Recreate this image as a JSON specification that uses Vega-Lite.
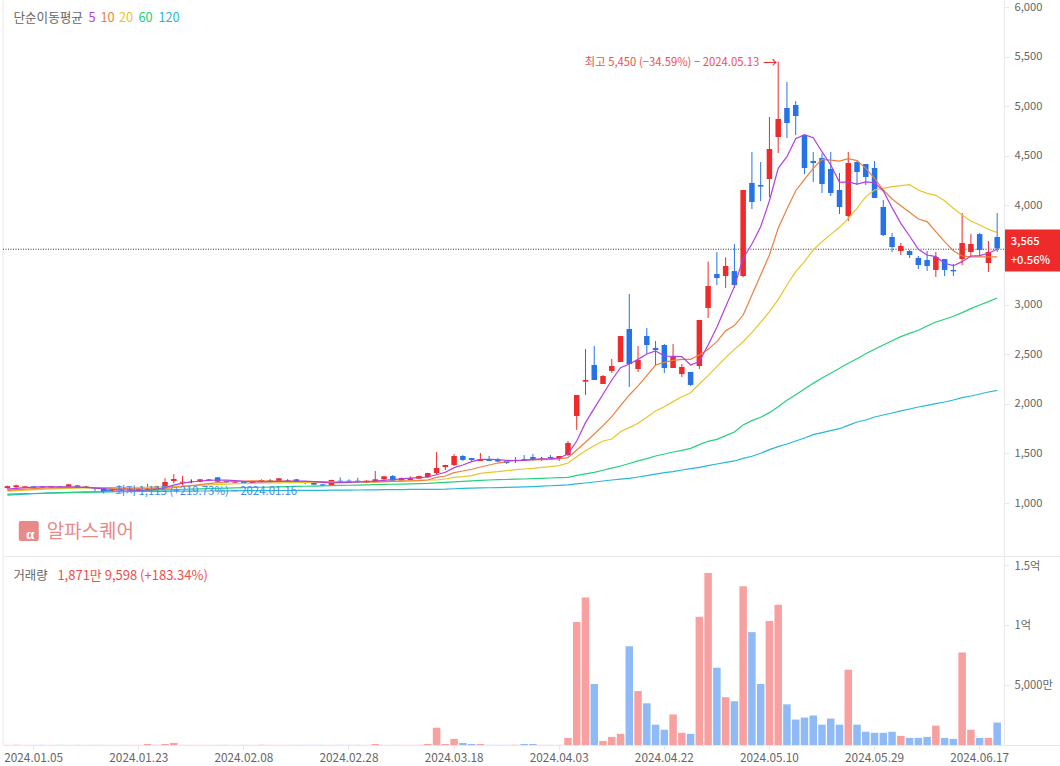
{"$schema":"https://vega.github.io/schema/vega-lite/v6.json","background":"white","padding":{"left":2,"top":-1,"right":0,"bottom":0},"spacing":0,"bounds":"flush",
"resolve":{"scale":{"color":"independent"}},
"config":{"font":"Noto Sans CJK KR","view":{"stroke":null}},
"datasets":{"daily":[
{"date":"2024.01.02","open":1150,"high":1175,"low":1145,"close":1170,"volume":12,"ma5":1140,"ma10":1128,"ma20":1120,"ma60":1090,"ma120":1080,"dir":"up"},
{"date":"2024.01.03","open":1160,"high":1185,"low":1155,"close":1178,"volume":12,"ma5":1147,"ma10":1135,"ma20":1125,"ma60":1092,"ma120":1085,"dir":"up"},
{"date":"2024.01.04","open":1155,"high":1172,"low":1150,"close":1168,"volume":12,"ma5":1155,"ma10":1140,"ma20":1130,"ma60":1094,"ma120":1090,"dir":"up"},
{"date":"2024.01.05","open":1168,"high":1172,"low":1150,"close":1155,"volume":12,"ma5":1160,"ma10":1145,"ma20":1134,"ma60":1096,"ma120":1094,"dir":"down"},
{"date":"2024.01.08","open":1168,"high":1172,"low":1152,"close":1155,"volume":12,"ma5":1163,"ma10":1150,"ma20":1138,"ma60":1098,"ma120":1098,"dir":"down"},
{"date":"2024.01.09","open":1155,"high":1172,"low":1150,"close":1168,"volume":12,"ma5":1163,"ma10":1152,"ma20":1142,"ma60":1100,"ma120":1102,"dir":"up"},
{"date":"2024.01.10","open":1168,"high":1172,"low":1152,"close":1155,"volume":12,"ma5":1163,"ma10":1155,"ma20":1145,"ma60":1102,"ma120":1105,"dir":"down"},
{"date":"2024.01.11","open":1165,"high":1192,"low":1160,"close":1188,"volume":12,"ma5":1162,"ma10":1157,"ma20":1148,"ma60":1104,"ma120":1108,"dir":"up"},
{"date":"2024.01.12","open":1178,"high":1182,"low":1158,"close":1162,"volume":12,"ma5":1160,"ma10":1158,"ma20":1150,"ma60":1106,"ma120":1110,"dir":"down"},
{"date":"2024.01.15","open":1165,"high":1172,"low":1148,"close":1158,"volume":12,"ma5":1157,"ma10":1158,"ma20":1152,"ma60":1108,"ma120":1112,"dir":"flat"},
{"date":"2024.01.16","open":1155,"high":1158,"low":1115,"close":1145,"volume":12,"ma5":1150,"ma10":1156,"ma20":1153,"ma60":1110,"ma120":1113,"dir":"down"},
{"date":"2024.01.17","open":1150,"high":1155,"low":1116,"close":1118,"volume":12,"ma5":1143,"ma10":1154,"ma20":1154,"ma60":1112,"ma120":1114,"dir":"down"},
{"date":"2024.01.18","open":1125,"high":1145,"low":1120,"close":1138,"volume":12,"ma5":1137,"ma10":1150,"ma20":1155,"ma60":1114,"ma120":1115,"dir":"up"},
{"date":"2024.01.19","open":1135,"high":1140,"low":1120,"close":1125,"volume":12,"ma5":1133,"ma10":1147,"ma20":1155,"ma60":1116,"ma120":1115,"dir":"down"},
{"date":"2024.01.22","open":1125,"high":1145,"low":1120,"close":1140,"volume":12,"ma5":1130,"ma10":1145,"ma20":1156,"ma60":1118,"ma120":1116,"dir":"up"},
{"date":"2024.01.23","open":1130,"high":1150,"low":1125,"close":1145,"volume":12,"ma5":1128,"ma10":1143,"ma20":1157,"ma60":1122,"ma120":1117,"dir":"up"},
{"date":"2024.01.24","open":1130,"high":1192,"low":1125,"close":1148,"volume":85,"ma5":1131,"ma10":1143,"ma20":1158,"ma60":1126,"ma120":1117,"dir":"up"},
{"date":"2024.01.25","open":1140,"high":1175,"low":1135,"close":1168,"volume":12,"ma5":1138,"ma10":1144,"ma20":1160,"ma60":1130,"ma120":1118,"dir":"up"},
{"date":"2024.01.26","open":1168,"high":1250,"low":1160,"close":1212,"volume":85,"ma5":1155,"ma10":1148,"ma20":1163,"ma60":1133,"ma120":1118,"dir":"up"},
{"date":"2024.01.29","open":1222,"high":1292,"low":1198,"close":1242,"volume":170,"ma5":1180,"ma10":1155,"ma20":1166,"ma60":1136,"ma120":1119,"dir":"up"},
{"date":"2024.01.30","open":1205,"high":1272,"low":1178,"close":1215,"volume":12,"ma5":1200,"ma10":1165,"ma20":1170,"ma60":1139,"ma120":1120,"dir":"up"},
{"date":"2024.01.31","open":1218,"high":1238,"low":1198,"close":1222,"volume":12,"ma5":1212,"ma10":1175,"ma20":1174,"ma60":1141,"ma120":1120,"dir":"flat"},
{"date":"2024.02.01","open":1215,"high":1243,"low":1208,"close":1239,"volume":12,"ma5":1222,"ma10":1185,"ma20":1178,"ma60":1143,"ma120":1121,"dir":"up"},
{"date":"2024.02.02","open":1228,"high":1242,"low":1225,"close":1238,"volume":12,"ma5":1228,"ma10":1195,"ma20":1182,"ma60":1146,"ma120":1121,"dir":"up"},
{"date":"2024.02.05","open":1259,"high":1262,"low":1212,"close":1215,"volume":12,"ma5":1232,"ma10":1205,"ma20":1186,"ma60":1148,"ma120":1122,"dir":"down"},
{"date":"2024.02.06","open":1222,"high":1225,"low":1205,"close":1208,"volume":12,"ma5":1230,"ma10":1212,"ma20":1190,"ma60":1151,"ma120":1122,"dir":"down"},
{"date":"2024.02.07","open":1205,"high":1225,"low":1202,"close":1222,"volume":12,"ma5":1225,"ma10":1218,"ma20":1194,"ma60":1153,"ma120":1123,"dir":"up"},
{"date":"2024.02.08","open":1218,"high":1222,"low":1192,"close":1195,"volume":12,"ma5":1218,"ma10":1222,"ma20":1197,"ma60":1155,"ma120":1124,"dir":"down"},
{"date":"2024.02.13","open":1202,"high":1222,"low":1198,"close":1218,"volume":12,"ma5":1214,"ma10":1224,"ma20":1199,"ma60":1157,"ma120":1124,"dir":"up"},
{"date":"2024.02.14","open":1212,"high":1239,"low":1208,"close":1232,"volume":12,"ma5":1213,"ma10":1224,"ma20":1201,"ma60":1159,"ma120":1125,"dir":"up"},
{"date":"2024.02.15","open":1218,"high":1239,"low":1208,"close":1226,"volume":12,"ma5":1215,"ma10":1222,"ma20":1203,"ma60":1161,"ma120":1125,"dir":"flat"},
{"date":"2024.02.16","open":1222,"high":1252,"low":1208,"close":1249,"volume":12,"ma5":1218,"ma10":1220,"ma20":1204,"ma60":1163,"ma120":1126,"dir":"up"},
{"date":"2024.02.19","open":1218,"high":1239,"low":1208,"close":1226,"volume":12,"ma5":1220,"ma10":1218,"ma20":1205,"ma60":1165,"ma120":1126,"dir":"flat"},
{"date":"2024.02.20","open":1239,"high":1242,"low":1208,"close":1218,"volume":12,"ma5":1222,"ma10":1217,"ma20":1206,"ma60":1167,"ma120":1127,"dir":"down"},
{"date":"2024.02.21","open":1218,"high":1222,"low":1191,"close":1205,"volume":12,"ma5":1220,"ma10":1217,"ma20":1207,"ma60":1169,"ma120":1127,"dir":"down"},
{"date":"2024.02.22","open":1202,"high":1205,"low":1182,"close":1185,"volume":12,"ma5":1215,"ma10":1216,"ma20":1208,"ma60":1171,"ma120":1128,"dir":"down"},
{"date":"2024.02.23","open":1188,"high":1192,"low":1172,"close":1175,"volume":12,"ma5":1208,"ma10":1215,"ma20":1208,"ma60":1173,"ma120":1128,"dir":"down"},
{"date":"2024.02.26","open":1181,"high":1235,"low":1175,"close":1232,"volume":12,"ma5":1202,"ma10":1213,"ma20":1209,"ma60":1175,"ma120":1129,"dir":"up"},
{"date":"2024.02.27","open":1225,"high":1259,"low":1208,"close":1212,"volume":12,"ma5":1205,"ma10":1212,"ma20":1210,"ma60":1177,"ma120":1129,"dir":"down"},
{"date":"2024.02.28","open":1225,"high":1239,"low":1205,"close":1208,"volume":12,"ma5":1208,"ma10":1212,"ma20":1211,"ma60":1179,"ma120":1130,"dir":"down"},
{"date":"2024.02.29","open":1225,"high":1255,"low":1205,"close":1208,"volume":12,"ma5":1212,"ma10":1212,"ma20":1212,"ma60":1181,"ma120":1131,"dir":"down"},
{"date":"2024.03.04","open":1205,"high":1230,"low":1202,"close":1225,"volume":12,"ma5":1216,"ma10":1213,"ma20":1213,"ma60":1183,"ma120":1132,"dir":"up"},
{"date":"2024.03.05","open":1212,"high":1323,"low":1208,"close":1239,"volume":85,"ma5":1220,"ma10":1214,"ma20":1214,"ma60":1185,"ma120":1133,"dir":"up"},
{"date":"2024.03.06","open":1239,"high":1272,"low":1235,"close":1269,"volume":12,"ma5":1228,"ma10":1216,"ma20":1216,"ma60":1187,"ma120":1134,"dir":"up"},
{"date":"2024.03.07","open":1272,"high":1282,"low":1222,"close":1225,"volume":12,"ma5":1235,"ma10":1218,"ma20":1219,"ma60":1189,"ma120":1135,"dir":"down"},
{"date":"2024.03.08","open":1225,"high":1256,"low":1222,"close":1252,"volume":12,"ma5":1243,"ma10":1220,"ma20":1222,"ma60":1191,"ma120":1136,"dir":"up"},
{"date":"2024.03.11","open":1232,"high":1269,"low":1228,"close":1249,"volume":12,"ma5":1250,"ma10":1222,"ma20":1225,"ma60":1193,"ma120":1137,"dir":"up"},
{"date":"2024.03.12","open":1245,"high":1275,"low":1242,"close":1272,"volume":12,"ma5":1256,"ma10":1225,"ma20":1228,"ma60":1195,"ma120":1137,"dir":"up"},
{"date":"2024.03.13","open":1259,"high":1305,"low":1255,"close":1302,"volume":85,"ma5":1262,"ma10":1232,"ma20":1232,"ma60":1198,"ma120":1138,"dir":"up"},
{"date":"2024.03.14","open":1302,"high":1514,"low":1286,"close":1353,"volume":1440,"ma5":1285,"ma10":1259,"ma20":1232,"ma60":1203,"ma120":1138,"dir":"up"},
{"date":"2024.03.15","open":1363,"high":1385,"low":1333,"close":1383,"volume":85,"ma5":1310,"ma10":1272,"ma20":1242,"ma60":1208,"ma120":1140,"dir":"up"},
{"date":"2024.03.18","open":1383,"high":1494,"low":1373,"close":1474,"volume":510,"ma5":1357,"ma10":1306,"ma20":1259,"ma60":1213,"ma120":1144,"dir":"up"},
{"date":"2024.03.19","open":1474,"high":1484,"low":1424,"close":1434,"volume":170,"ma5":1383,"ma10":1323,"ma20":1266,"ma60":1218,"ma120":1148,"dir":"down"},
{"date":"2024.03.20","open":1454,"high":1454,"low":1413,"close":1434,"volume":85,"ma5":1417,"ma10":1340,"ma20":1276,"ma60":1223,"ma120":1150,"dir":"down"},
{"date":"2024.03.21","open":1424,"high":1504,"low":1424,"close":1444,"volume":85,"ma5":1440,"ma10":1363,"ma20":1299,"ma60":1228,"ma120":1152,"dir":"up"},
{"date":"2024.03.22","open":1444,"high":1474,"low":1424,"close":1424,"volume":12,"ma5":1440,"ma10":1383,"ma20":1309,"ma60":1232,"ma120":1154,"dir":"down"},
{"date":"2024.03.25","open":1434,"high":1454,"low":1413,"close":1418,"volume":12,"ma5":1437,"ma10":1403,"ma20":1316,"ma60":1235,"ma120":1156,"dir":"down"},
{"date":"2024.03.26","open":1424,"high":1434,"low":1393,"close":1403,"volume":12,"ma5":1430,"ma10":1417,"ma20":1326,"ma60":1237,"ma120":1158,"dir":"down"},
{"date":"2024.03.27","open":1424,"high":1464,"low":1403,"close":1434,"volume":12,"ma5":1427,"ma10":1430,"ma20":1336,"ma60":1240,"ma120":1160,"dir":"up"},
{"date":"2024.03.28","open":1444,"high":1484,"low":1424,"close":1424,"volume":85,"ma5":1430,"ma10":1430,"ma20":1343,"ma60":1242,"ma120":1163,"dir":"down"},
{"date":"2024.03.29","open":1464,"high":1494,"low":1424,"close":1444,"volume":85,"ma5":1440,"ma10":1434,"ma20":1350,"ma60":1245,"ma120":1166,"dir":"down"},
{"date":"2024.04.01","open":1447,"high":1464,"low":1427,"close":1444,"volume":12,"ma5":1444,"ma10":1437,"ma20":1360,"ma60":1248,"ma120":1170,"dir":"flat"},
{"date":"2024.04.02","open":1464,"high":1484,"low":1434,"close":1454,"volume":12,"ma5":1447,"ma10":1440,"ma20":1366,"ma60":1252,"ma120":1174,"dir":"down"},
{"date":"2024.04.03","open":1444,"high":1474,"low":1424,"close":1474,"volume":12,"ma5":1454,"ma10":1444,"ma20":1377,"ma60":1255,"ma120":1178,"dir":"up"},
{"date":"2024.04.04","open":1484,"high":1625,"low":1474,"close":1605,"volume":593,"ma5":1494,"ma10":1457,"ma20":1403,"ma60":1259,"ma120":1182,"dir":"up"},
{"date":"2024.04.05","open":1877,"high":2089,"low":1736,"close":2089,"volume":10255,"ma5":1625,"ma10":1534,"ma20":1467,"ma60":1279,"ma120":1192,"dir":"up"},
{"date":"2024.04.08","open":2223,"high":2552,"low":2089,"close":2240,"volume":12289,"ma5":1810,"ma10":1612,"ma20":1528,"ma60":1294,"ma120":1202,"dir":"up"},
{"date":"2024.04.09","open":2391,"high":2583,"low":2240,"close":2240,"volume":5085,"ma5":1954,"ma10":1696,"ma20":1578,"ma60":1309,"ma120":1212,"dir":"down"},
{"date":"2024.04.11","open":2200,"high":2290,"low":2200,"close":2280,"volume":339,"ma5":2096,"ma10":1780,"ma20":1625,"ma60":1330,"ma120":1222,"dir":"up"},
{"date":"2024.04.12","open":2331,"high":2452,"low":2311,"close":2381,"volume":678,"ma5":2240,"ma10":1870,"ma20":1645,"ma60":1352,"ma120":1232,"dir":"up"},
{"date":"2024.04.15","open":2421,"high":2683,"low":2421,"close":2683,"volume":932,"ma5":2364,"ma10":1981,"ma20":1719,"ma60":1373,"ma120":1241,"dir":"up"},
{"date":"2024.04.16","open":2754,"high":3107,"low":2169,"close":2401,"volume":8221,"ma5":2401,"ma10":2089,"ma20":1760,"ma60":1398,"ma120":1249,"dir":"down"},
{"date":"2024.04.17","open":2351,"high":2583,"low":2321,"close":2442,"volume":4492,"ma5":2448,"ma10":2180,"ma20":1803,"ma60":1424,"ma120":1262,"dir":"up"},
{"date":"2024.04.18","open":2683,"high":2764,"low":2502,"close":2593,"volume":3475,"ma5":2502,"ma10":2284,"ma20":1864,"ma60":1447,"ma120":1277,"dir":"down"},
{"date":"2024.04.19","open":2563,"high":2633,"low":2381,"close":2542,"volume":1695,"ma5":2532,"ma10":2391,"ma20":1927,"ma60":1474,"ma120":1292,"dir":"down"},
{"date":"2024.04.22","open":2593,"high":2603,"low":2311,"close":2361,"volume":1271,"ma5":2482,"ma10":2418,"ma20":1971,"ma60":1494,"ma120":1306,"dir":"down"},
{"date":"2024.04.23","open":2361,"high":2603,"low":2361,"close":2472,"volume":2543,"ma5":2479,"ma10":2438,"ma20":2022,"ma60":1514,"ma120":1317,"dir":"up"},
{"date":"2024.04.24","open":2300,"high":2401,"low":2270,"close":2371,"volume":1017,"ma5":2475,"ma10":2448,"ma20":2072,"ma60":1531,"ma120":1333,"dir":"up"},
{"date":"2024.04.25","open":2321,"high":2321,"low":2180,"close":2190,"volume":932,"ma5":2391,"ma10":2448,"ma20":2112,"ma60":1551,"ma120":1346,"dir":"down"},
{"date":"2024.04.26","open":2381,"high":2845,"low":2351,"close":2845,"volume":10679,"ma5":2425,"ma10":2492,"ma20":2200,"ma60":1588,"ma120":1360,"dir":"up"},
{"date":"2024.04.29","open":2966,"high":3433,"low":2865,"close":3187,"volume":14323,"ma5":2593,"ma10":2549,"ma20":2284,"ma60":1622,"ma120":1376,"dir":"up"},
{"date":"2024.04.30","open":3308,"high":3530,"low":3197,"close":3268,"volume":6441,"ma5":2771,"ma10":2626,"ma20":2374,"ma60":1642,"ma120":1393,"dir":"down"},
{"date":"2024.05.02","open":3288,"high":3476,"low":3167,"close":3389,"volume":3983,"ma5":2979,"ma10":2737,"ma20":2465,"ma60":1679,"ma120":1410,"dir":"up"},
{"date":"2024.05.03","open":3338,"high":3611,"low":3167,"close":3197,"volume":3644,"ma5":3181,"ma10":2788,"ma20":2549,"ma60":1716,"ma120":1424,"dir":"down"},
{"date":"2024.05.07","open":3288,"high":4155,"low":3275,"close":4155,"volume":13221,"ma5":3466,"ma10":2895,"ma20":2626,"ma60":1786,"ma120":1450,"dir":"up"},
{"date":"2024.05.08","open":4226,"high":4538,"low":3963,"close":4034,"volume":9407,"ma5":3611,"ma10":3097,"ma20":2720,"ma60":1830,"ma120":1471,"dir":"down"},
{"date":"2024.05.09","open":4205,"high":4437,"low":4044,"close":4189,"volume":5085,"ma5":3785,"ma10":3298,"ma20":2820,"ma60":1864,"ma120":1501,"dir":"down"},
{"date":"2024.05.10","open":4266,"high":4891,"low":4084,"close":4568,"volume":10340,"ma5":4047,"ma10":3500,"ma20":2930,"ma60":1911,"ma120":1538,"dir":"up"},
{"date":"2024.05.13","open":4689,"high":5450,"low":4528,"close":4871,"volume":11696,"ma5":4373,"ma10":3769,"ma20":3050,"ma60":1971,"ma120":1568,"dir":"up"},
{"date":"2024.05.14","open":4982,"high":5244,"low":4679,"close":4830,"volume":3390,"ma5":4491,"ma10":3963,"ma20":3197,"ma60":2035,"ma120":1595,"dir":"down"},
{"date":"2024.05.16","open":5012,"high":5052,"low":4709,"close":4901,"volume":2119,"ma5":4672,"ma10":4148,"ma20":3332,"ma60":2092,"ma120":1625,"dir":"down"},
{"date":"2024.05.17","open":4709,"high":4709,"low":4316,"close":4377,"volume":2288,"ma5":4713,"ma10":4263,"ma20":3433,"ma60":2149,"ma120":1655,"dir":"down"},
{"date":"2024.05.20","open":4447,"high":4538,"low":4236,"close":4427,"volume":2458,"ma5":4682,"ma10":4373,"ma20":3550,"ma60":2206,"ma120":1689,"dir":"down"},
{"date":"2024.05.21","open":4478,"high":4525,"low":4125,"close":4215,"volume":1695,"ma5":4541,"ma10":4464,"ma20":3634,"ma60":2260,"ma120":1709,"dir":"down"},
{"date":"2024.05.22","open":4367,"high":4538,"low":4095,"close":4125,"volume":2204,"ma5":4407,"ma10":4457,"ma20":3708,"ma60":2307,"ma120":1729,"dir":"down"},
{"date":"2024.05.23","open":4155,"high":4326,"low":3913,"close":3984,"volume":1695,"ma5":4232,"ma10":4447,"ma20":3779,"ma60":2358,"ma120":1749,"dir":"down"},
{"date":"2024.05.24","open":3893,"high":4538,"low":3842,"close":4427,"volume":6272,"ma5":4236,"ma10":4471,"ma20":3869,"ma60":2408,"ma120":1783,"dir":"up"},
{"date":"2024.05.27","open":4437,"high":4447,"low":4205,"close":4336,"volume":1695,"ma5":4215,"ma10":4451,"ma20":3970,"ma60":2455,"ma120":1817,"dir":"down"},
{"date":"2024.05.28","open":4417,"high":4417,"low":4205,"close":4286,"volume":1102,"ma5":4236,"ma10":4373,"ma20":4088,"ma60":2505,"ma120":1837,"dir":"down"},
{"date":"2024.05.29","open":4377,"high":4447,"low":4074,"close":4074,"volume":1017,"ma5":4229,"ma10":4273,"ma20":4155,"ma60":2549,"ma120":1867,"dir":"down"},
{"date":"2024.05.30","open":3984,"high":4054,"low":3691,"close":3701,"volume":1017,"ma5":4145,"ma10":4155,"ma20":4172,"ma60":2593,"ma120":1887,"dir":"down"},
{"date":"2024.05.31","open":3681,"high":3722,"low":3530,"close":3580,"volume":1102,"ma5":3977,"ma10":4064,"ma20":4189,"ma60":2636,"ma120":1907,"dir":"down"},
{"date":"2024.06.03","open":3540,"high":3621,"low":3500,"close":3591,"volume":763,"ma5":3819,"ma10":3997,"ma20":4199,"ma60":2677,"ma120":1928,"dir":"up"},
{"date":"2024.06.04","open":3540,"high":3550,"low":3470,"close":3500,"volume":593,"ma5":3691,"ma10":3930,"ma20":4209,"ma60":2710,"ma120":1948,"dir":"down"},
{"date":"2024.06.05","open":3470,"high":3490,"low":3359,"close":3399,"volume":593,"ma5":3557,"ma10":3863,"ma20":4155,"ma60":2741,"ma120":1968,"dir":"down"},
{"date":"2024.06.07","open":3449,"high":3540,"low":3339,"close":3389,"volume":678,"ma5":3500,"ma10":3836,"ma20":4121,"ma60":2784,"ma120":1985,"dir":"down"},
{"date":"2024.06.10","open":3349,"high":3530,"low":3278,"close":3480,"volume":1610,"ma5":3483,"ma10":3735,"ma20":4101,"ma60":2825,"ma120":2002,"dir":"up"},
{"date":"2024.06.11","open":3459,"high":3459,"low":3288,"close":3349,"volume":593,"ma5":3416,"ma10":3634,"ma20":4047,"ma60":2852,"ma120":2018,"dir":"down"},
{"date":"2024.06.12","open":3349,"high":3409,"low":3288,"close":3335,"volume":509,"ma5":3392,"ma10":3543,"ma20":3970,"ma60":2882,"ma120":2038,"dir":"down"},
{"date":"2024.06.13","open":3459,"high":3923,"low":3399,"close":3621,"volume":7712,"ma5":3433,"ma10":3490,"ma20":3903,"ma60":2919,"ma120":2062,"dir":"up"},
{"date":"2024.06.14","open":3530,"high":3711,"low":3480,"close":3611,"volume":1271,"ma5":3490,"ma10":3480,"ma20":3843,"ma60":2959,"ma120":2079,"dir":"up"},
{"date":"2024.06.17","open":3711,"high":3722,"low":3490,"close":3550,"volume":593,"ma5":3493,"ma10":3480,"ma20":3802,"ma60":2996,"ma120":2099,"dir":"down"},
{"date":"2024.06.18","open":3419,"high":3641,"low":3328,"close":3530,"volume":593,"ma5":3517,"ma10":3480,"ma20":3759,"ma60":3030,"ma120":2119,"dir":"up"},
{"date":"2024.06.19","open":3681,"high":3923,"low":3530,"close":3565,"volume":1872,"ma5":3557,"ma10":3480,"ma20":3725,"ma60":3067,"ma120":2136,"dir":"down"}
]},
"vconcat":[
{"width":1001,"height":556,
"data":{"name":"daily"},
"encoding":{
"x":{"field":"date","type":"ordinal","scale":{"type":"band","paddingInner":0,"paddingOuter":0.14,"align":0},"axis":{"title":null,"labels":false,"ticks":false,"domain":true,"domainColor":"#e8e8e8","grid":false}},
"y":{"type":"quantitative","scale":{"domain":[466,6070],"nice":false,"zero":false},"axis":{"title":null,"orient":"right","grid":false,"values":[466,1000,1500,2000,2500,3000,3555,4000,4500,5000,5500,6000],
"labelExpr":"datum.value==466||datum.value==3555?'':format(datum.value,',')","labelFontSize":11.2,"labelColor":"#666666","labelPadding":5,"domainColor":"#e8e8e8",
"labelOffset":{"condition":{"test":"datum.value==6000","value":1},"value":0},
"tickColor":{"condition":{"test":"datum.value==3555","value":"#ee2a2a"},"value":"#e8e8e8"},
"tickSize":{"condition":{"test":"datum.value==466||datum.value==3555","value":57},"value":5},
"tickWidth":{"condition":{"test":"datum.value==3555","value":42},"value":1}}}
},
"layer":[
{"data":{"values":[{"date":"2024.01.02"}]},"mark":{"type":"rule","color":"#e8e8e8"},"encoding":{"x":{"field":"date","type":"ordinal","bandPosition":0},"y":{"value":0},"y2":{"value":556}}},
{"data":{"values":[{"price":3558}]},"mark":{"type":"rule","color":"#333344","strokeDash":[1,1.5],"strokeWidth":1},"encoding":{"x":{"value":0},"x2":{"value":1001},"y":{"field":"price","type":"quantitative"}}},
{"mark":{"type":"rule","strokeWidth":1},"encoding":{"y":{"field":"low"},"y2":{"field":"high"},"color":{"field":"dir","type":"nominal","legend":null,"scale":{"domain":["up","down","flat"],"range":["#ee2a2a","#2673e8","#222222"]}}}},
{"mark":{"type":"bar","size":5.5},"encoding":{"y":{"field":"open"},"y2":{"field":"close"},"color":{"field":"dir","type":"nominal","legend":null}}},
{"mark":{"type":"line","color":"#26b8d8","strokeWidth":1.2},"encoding":{"y":{"field":"ma120"}}},
{"mark":{"type":"line","color":"#25d07c","strokeWidth":1.2},"encoding":{"y":{"field":"ma60"}}},
{"mark":{"type":"line","color":"#e8c52c","strokeWidth":1.2},"encoding":{"y":{"field":"ma20"}}},
{"mark":{"type":"line","color":"#ee7f3c","strokeWidth":1.2},"encoding":{"y":{"field":"ma10"}}},
{"mark":{"type":"line","color":"#b43ee0","strokeWidth":1.2},"encoding":{"y":{"field":"ma5"}}},
{"data":{"values":[{"date":"2024.05.13","price":5450,"label":"최고 5,450 (−34.59%) − 2024.05.13"}]},"mark":{"type":"text","align":"right","baseline":"middle","fontSize":11.3,"color":"#f24d4d","dx":-19,"dy":1.5},"encoding":{"y":{"field":"price","type":"quantitative"},"text":{"field":"label"}}},
{"data":{"values":[{"date":"2024.05.13","price":5450,"label":"→"}]},"mark":{"type":"text","align":"right","baseline":"middle","fontSize":14,"color":"#ee2a2a","dx":-1,"dy":1},"encoding":{"y":{"field":"price","type":"quantitative"},"text":{"field":"label"}}},
{"data":{"values":[{"date":"2024.01.16","price":1115,"label":"←"}]},"mark":{"type":"text","align":"left","baseline":"middle","fontSize":12,"color":"#2673e8","dx":5},"encoding":{"y":{"field":"price","type":"quantitative"},"text":{"field":"label"}}},
{"data":{"values":[{"date":"2024.01.16","price":1115,"label":"최저 1,115 (+219.73%) − 2024.01.16"}]},"mark":{"type":"text","align":"left","baseline":"middle","fontSize":11.4,"color":"#3d8bf0","dx":20},"encoding":{"y":{"field":"price","type":"quantitative"},"text":{"field":"label"}}},
{"data":{"values":[{"date":"2024.06.19","price":3565,"label":"3,565"}]},"mark":{"type":"text","align":"left","baseline":"middle","fontSize":11.2,"fontWeight":500,"color":"white","dx":13.5,"dy":-7},"encoding":{"y":{"field":"price","type":"quantitative"},"text":{"field":"label"}}},
{"data":{"values":[{"date":"2024.06.19","price":3565,"label":"+0.56%"}]},"mark":{"type":"text","align":"left","baseline":"middle","fontSize":11.2,"fontWeight":500,"color":"white","dx":13.5,"dy":12},"encoding":{"y":{"field":"price","type":"quantitative"},"text":{"field":"label"}}},
{"data":{"values":[{"date":"2024.01.02","price":5899,"label":"단순이동평균"}]},"mark":{"type":"text","align":"left","baseline":"middle","fontSize":12.6,"color":"#666666","dx":6,"dy":1},"encoding":{"y":{"field":"price","type":"quantitative"},"text":{"field":"label"}}},
{"data":{"values":[{"date":"2024.01.02","price":5899,"label":"5"}]},"mark":{"type":"text","align":"left","baseline":"middle","fontSize":12.8,"color":"#b43ee0","dx":81,"dy":1},"encoding":{"y":{"field":"price","type":"quantitative"},"text":{"field":"label"}}},
{"data":{"values":[{"date":"2024.01.02","price":5899,"label":"10"}]},"mark":{"type":"text","align":"left","baseline":"middle","fontSize":12.8,"color":"#ee7f3c","dx":93,"dy":1},"encoding":{"y":{"field":"price","type":"quantitative"},"text":{"field":"label"}}},
{"data":{"values":[{"date":"2024.01.02","price":5899,"label":"20"}]},"mark":{"type":"text","align":"left","baseline":"middle","fontSize":12.8,"color":"#e8c52c","dx":111.5,"dy":1},"encoding":{"y":{"field":"price","type":"quantitative"},"text":{"field":"label"}}},
{"data":{"values":[{"date":"2024.01.02","price":5899,"label":"60"}]},"mark":{"type":"text","align":"left","baseline":"middle","fontSize":12.8,"color":"#25d07c","dx":131,"dy":1},"encoding":{"y":{"field":"price","type":"quantitative"},"text":{"field":"label"}}},
{"data":{"values":[{"date":"2024.01.02","price":5899,"label":"120"}]},"mark":{"type":"text","align":"left","baseline":"middle","fontSize":12.8,"color":"#26b8d8","dx":151,"dy":1},"encoding":{"y":{"field":"price","type":"quantitative"},"text":{"field":"label"}}},
{"data":{"values":[{"date":"2024.01.05","price":718}]},"mark":{"type":"point","filled":true,"opacity":1,"color":"#e88a8a","size":400,"shape":"M -0.8,-1 H 0.8 Q 1,-1 1,-0.8 V 0.8 Q 1,1 0.8,1 H -0.8 Q -1,1 -1,0.8 V -0.8 Q -1,-1 -0.8,-1 Z"},"encoding":{"xOffset":{"value":-0.5},"y":{"field":"price","type":"quantitative"}}},
{"data":{"values":[{"date":"2024.01.05","price":718,"label":"α"}]},"mark":{"type":"text","align":"center","baseline":"middle","fontSize":15,"fontWeight":"bold","font":"Liberation Serif","color":"white","dx":-3.5,"dy":3},"encoding":{"y":{"field":"price","type":"quantitative"},"text":{"field":"label"}}},
{"data":{"values":[{"date":"2024.01.05","price":718,"label":"알파스퀘어"}]},"mark":{"type":"text","align":"left","baseline":"middle","fontSize":19,"color":"#e88a8a","dx":13,"dy":1},"encoding":{"y":{"field":"price","type":"quantitative"},"text":{"field":"label"}}}
]},
{"width":1001,"height":189,
"data":{"name":"daily"},
"encoding":{
"x":{"field":"date","type":"ordinal","scale":{"type":"band","paddingInner":0,"paddingOuter":0.14,"align":0},"axis":{"title":null,"labelAngle":0,"grid":false,"values":["2024.01.05","2024.01.23","2024.02.08","2024.02.28","2024.03.18","2024.04.03","2024.04.22","2024.05.10","2024.05.29","2024.06.17"],"labelFontSize":11.8,"labelColor":"#666666","labelPadding":2,"tickSize":5,"tickColor":"#e8e8e8","domainColor":"#e8e8e8","bandPosition":0.5}},
"y":{"type":"quantitative","scale":{"domain":[0,15750],"nice":false},"axis":{"title":null,"orient":"right","grid":false,"values":[0,5000,10000,15000],
"labelExpr":"datum.value==0?'':datum.value==5000?'5,000만':datum.value==10000?'1억':'1.5억'","labelFontSize":11.2,"labelColor":"#666666","labelPadding":5,"domainColor":"#e8e8e8","tickColor":"#e8e8e8",
"labelOffset":{"condition":{"test":"datum.value==15000","value":1},"value":0},
"tickSize":{"condition":{"test":"datum.value==0","value":57},"value":5}}}
},
"layer":[
{"data":{"values":[{"date":"2024.01.02"}]},"mark":{"type":"rule","color":"#e8e8e8"},"encoding":{"x":{"field":"date","type":"ordinal","bandPosition":0},"y":{"value":0},"y2":{"value":189}}},
{"mark":{"type":"bar","size":7.5},"encoding":{"y":{"field":"volume"},"color":{"field":"dir","type":"nominal","legend":null,"scale":{"domain":["up","down","flat"],"range":["#f8a0a0","#8fbaf5","#f8a0a0"]}}}},
{"data":{"values":[{"date":"2024.01.02","amount":14167,"label":"거래량"}]},"mark":{"type":"text","align":"left","baseline":"middle","fontSize":12.4,"color":"#666666","dx":6,"dy":1},"encoding":{"y":{"field":"amount","type":"quantitative"},"text":{"field":"label"}}},
{"data":{"values":[{"date":"2024.01.02","amount":14167,"label":"1,871만 9,598 (+183.34%)"}]},"mark":{"type":"text","align":"left","baseline":"middle","fontSize":13,"color":"#f24d4d","dx":50,"dy":1},"encoding":{"y":{"field":"amount","type":"quantitative"},"text":{"field":"label"}}}
]}
]}
